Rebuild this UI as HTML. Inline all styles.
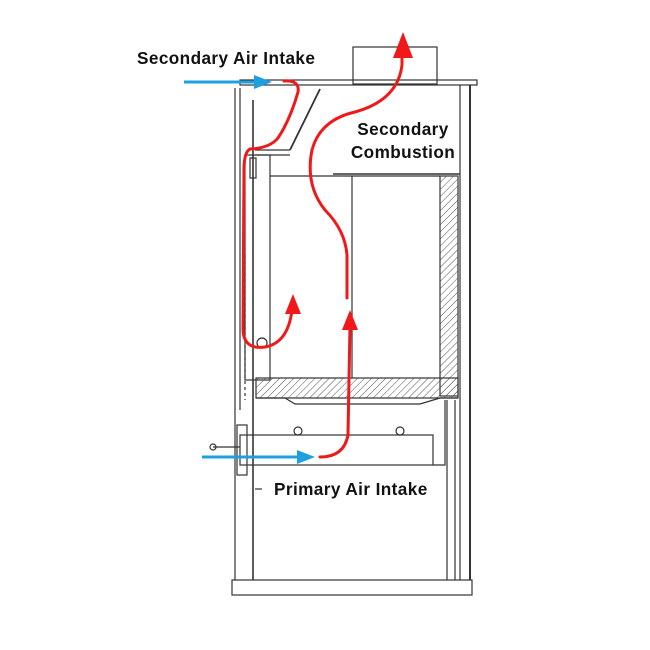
<!DOCTYPE html>
<html><head><style>
html,body{margin:0;padding:0;background:#fff;}
svg{display:block;}
text{font-family:"Liberation Sans",sans-serif;font-weight:bold;fill:#111;letter-spacing:0.4px;}
</style></head><body>
<svg width="650" height="650" viewBox="0 0 650 650" xmlns="http://www.w3.org/2000/svg">
<defs>
<pattern id="h" width="5" height="5" patternUnits="userSpaceOnUse" patternTransform="rotate(45)">
<line x1="0" y1="0" x2="0" y2="5" stroke="#555" stroke-width="1"/>
</pattern>
</defs>
<g fill="none" stroke="#333" stroke-width="1.2">
<rect x="353" y="47" width="84" height="37"/>
<rect x="240" y="80" width="237" height="5"/>
<line x1="460" y1="85" x2="460" y2="580"/>
<line x1="470" y1="85" x2="470" y2="580" stroke-width="2"/>
<line x1="235" y1="88" x2="235" y2="580"/>
<line x1="240" y1="88" x2="240" y2="410"/>
<line x1="253" y1="100" x2="253" y2="580" stroke-width="1.6"/>
<line x1="447" y1="400" x2="447" y2="580"/>
<line x1="455" y1="400" x2="455" y2="580"/>
<line x1="320" y1="89" x2="290" y2="150" stroke-width="1.8"/>
<line x1="255" y1="150" x2="290" y2="150"/>
<line x1="255" y1="155" x2="290" y2="155"/>
<rect x="245" y="155" width="25" height="225"/>
<rect x="250" y="158" width="6" height="20"/>
<circle cx="262" cy="343" r="5"/>
<line x1="270" y1="176" x2="440" y2="176"/>
<line x1="333" y1="174" x2="460" y2="174" stroke-width="1.6"/>
<line x1="352" y1="176" x2="352" y2="378"/>
<rect x="440" y="176" width="18" height="220" fill="url(#h)"/>
<rect x="256" y="378" width="202" height="20" fill="url(#h)"/>
<path d="M256 398 L285 398 L295 404 L420 404 L440 398 L458 398"/>
<rect x="240" y="435" width="193" height="30"/>
<circle cx="298" cy="431" r="4"/>
<circle cx="400" cy="431" r="4"/>
<path d="M433 465 L445 465 L445 400"/>
<rect x="237" y="425" width="10" height="50"/>
<line x1="213" y1="447" x2="240" y2="447"/>
<circle cx="213" cy="447" r="3"/>
<line x1="255" y1="489" x2="262" y2="489"/>
<rect x="232" y="580" width="240" height="15"/>
<line x1="245" y1="255" x2="245" y2="400" stroke-dasharray="3 3"/>
</g>
<g stroke="#1ea0e0" stroke-width="3" fill="#1ea0e0">
<line x1="184" y1="82" x2="255" y2="82"/>
<polygon points="272,82 254,75 254,89" stroke="none"/>
<line x1="202" y1="457" x2="298" y2="457"/>
<polygon points="315,457 297,450 297,464" stroke="none"/>
</g>
<g stroke="#f01818" stroke-width="3" fill="none" stroke-linecap="round">
<path d="M284 81 Q300 80 298 92 Q290 120 278 138 Q270 148 250 149 Q244 152 244 170 L243 330 Q244 350 265 347 Q288 343 292 310"/>
<path d="M347 298 L347 255 Q345 230 325 210 Q305 185 312 150 Q320 120 355 112 Q398 100 402 65 L402 50"/>
<path d="M320 457 Q344 457 348 435 L350 325"/>
</g>
<g fill="#f01818">
<polygon points="293,294 285,314 301,314"/>
<polygon points="403,32 393,58 413,58"/>
<polygon points="350,310 342,330 358,330"/>
</g>
<text x="137" y="64" font-size="17.2">Secondary Air Intake</text>
<text x="403" y="135" font-size="17.2" text-anchor="middle">Secondary</text>
<text x="403" y="158" font-size="17.2" text-anchor="middle">Combustion</text>
<text x="274" y="495" font-size="17.2">Primary Air Intake</text>
</svg>
</body></html>
